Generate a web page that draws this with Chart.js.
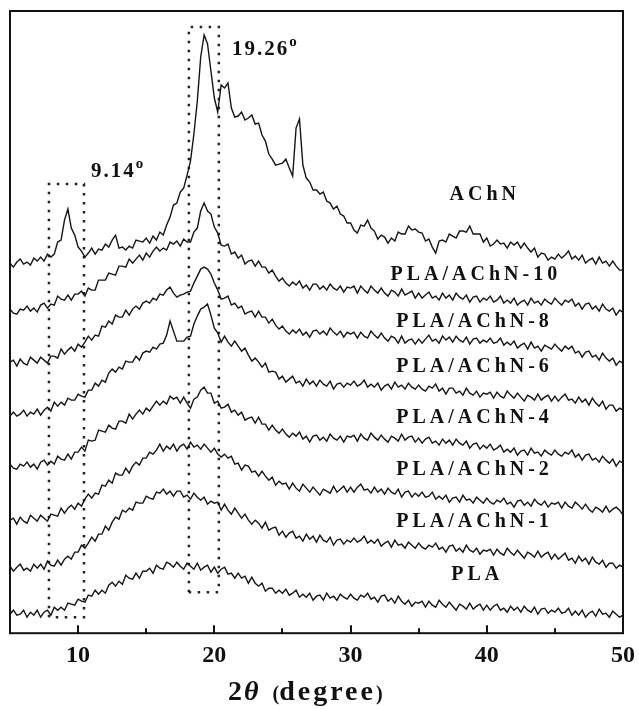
<!DOCTYPE html>
<html>
<head>
<meta charset="utf-8">
<title>XRD patterns</title>
<script src="https://cdn.jsdelivr.net/npm/chart.js@4.4.1/dist/chart.umd.min.js"></script>
<style>
  html, body { margin: 0; padding: 0; background: #fff; }
  #wrap { width: 639px; height: 709px; }
</style>
</head>
<body>
<div id="wrap"><canvas id="xrd" width="639" height="709"></canvas></div>
<script>
// 2theta grid (degree), 0.25 step
const angles = [
  5, 5.25, 5.5, 5.75, 6, 6.25, 6.5, 6.75, 7, 7.25, 7.5, 7.75, 8, 8.25, 8.5, 8.75, 9, 9.25, 9.5, 9.75,
  10, 10.25, 10.5, 10.75, 11, 11.25, 11.5, 11.75, 12, 12.25, 12.5, 12.75, 13, 13.25, 13.5, 13.75, 14, 14.25, 14.5, 14.75,
  15, 15.25, 15.5, 15.75, 16, 16.25, 16.5, 16.75, 17, 17.25, 17.5, 17.75, 18, 18.25, 18.5, 18.75, 19, 19.25, 19.5, 19.75,
  20, 20.25, 20.5, 20.75, 21, 21.25, 21.5, 21.75, 22, 22.25, 22.5, 22.75, 23, 23.25, 23.5, 23.75, 24, 24.25, 24.5, 24.75,
  25, 25.25, 25.5, 25.75, 26, 26.25, 26.5, 26.75, 27, 27.25, 27.5, 27.75, 28, 28.25, 28.5, 28.75, 29, 29.25, 29.5, 29.75,
  30, 30.25, 30.5, 30.75, 31, 31.25, 31.5, 31.75, 32, 32.25, 32.5, 32.75, 33, 33.25, 33.5, 33.75, 34, 34.25, 34.5, 34.75,
  35, 35.25, 35.5, 35.75, 36, 36.25, 36.5, 36.75, 37, 37.25, 37.5, 37.75, 38, 38.25, 38.5, 38.75, 39, 39.25, 39.5, 39.75,
  40, 40.25, 40.5, 40.75, 41, 41.25, 41.5, 41.75, 42, 42.25, 42.5, 42.75, 43, 43.25, 43.5, 43.75, 44, 44.25, 44.5, 44.75,
  45, 45.25, 45.5, 45.75, 46, 46.25, 46.5, 46.75, 47, 47.25, 47.5, 47.75, 48, 48.25, 48.5, 48.75, 49, 49.25, 49.5, 49.75,
  50
];

// intensities (a.u., curves already stacked with offsets)
const achn = [
  370, 366, 371, 374, 369, 371, 368, 375, 372, 376, 372, 379, 376, 379, 391, 393, 413, 424, 405, 398,
  386, 382, 376, 380, 385, 379, 384, 383, 389, 386, 393, 398, 385, 386, 383, 387, 385, 393, 392, 391,
  395, 390, 397, 393, 401, 398, 408, 416, 428, 430, 441, 445, 458, 472, 499, 532, 576, 598, 589, 562,
  535, 521, 548, 545, 550, 525, 516, 517, 521, 513, 515, 518, 509, 510, 498, 492, 479, 474, 468, 469,
  470, 474, 465, 457, 505, 514, 468, 455, 451, 443, 443, 439, 441, 432, 430, 424, 427, 419, 417, 410,
  410, 403, 400, 408, 407, 413, 405, 402, 394, 398, 396, 390, 395, 392, 401, 399, 399, 407, 403, 404,
  401, 400, 392, 394, 386, 380, 392, 393, 391, 399, 397, 395, 402, 402, 401, 407, 399, 399, 399, 391,
  395, 387, 389, 393, 389, 390, 385, 391, 388, 391, 385, 390, 385, 381, 385, 376, 380, 379, 373, 376,
  374, 379, 375, 378, 382, 374, 377, 373, 378, 370, 373, 375, 369, 376, 370, 372, 367, 372, 367, 363,
  363
];
const achn10 = [
  324, 320, 319, 324, 323, 327, 322, 325, 321, 328, 330, 325, 329, 328, 337, 334, 333, 338, 333, 339,
  339, 342, 337, 345, 343, 343, 353, 353, 353, 360, 359, 358, 367, 367, 366, 374, 370, 374, 378, 373,
  380, 376, 382, 386, 382, 385, 383, 391, 389, 392, 387, 394, 391, 391, 401, 405, 422, 430, 422, 419,
  406, 400, 388, 387, 389, 379, 381, 375, 378, 369, 372, 373, 367, 372, 366, 366, 360, 363, 357, 352,
  355, 350, 347, 351, 348, 352, 345, 348, 343, 349, 349, 344, 347, 343, 349, 345, 343, 347, 341, 346,
  345, 347, 340, 347, 343, 340, 347, 343, 340, 345, 340, 337, 343, 341, 337, 344, 338, 340, 342, 335,
  340, 335, 338, 341, 335, 337, 333, 340, 335, 338, 333, 340, 336, 334, 338, 331, 336, 337, 331, 335,
  333, 337, 331, 333, 337, 330, 333, 330, 335, 328, 331, 333, 328, 335, 330, 332, 328, 334, 331, 329,
  335, 331, 328, 333, 331, 334, 327, 330, 324, 329, 330, 324, 327, 322, 329, 324, 322, 325, 318, 323,
  321
];
const achn8 = [
  271, 273, 267, 274, 270, 268, 276, 273, 270, 276, 273, 270, 277, 277, 275, 284, 279, 283, 286, 282,
  289, 286, 291, 297, 293, 298, 297, 307, 306, 312, 309, 318, 316, 316, 323, 318, 324, 327, 324, 330,
  332, 330, 335, 333, 339, 338, 343, 346, 340, 336, 338, 339, 341, 342, 350, 357, 364, 366, 364, 359,
  350, 343, 334, 335, 337, 328, 330, 325, 327, 319, 321, 322, 316, 322, 316, 316, 310, 314, 308, 304,
  307, 302, 299, 303, 300, 304, 298, 301, 296, 302, 303, 299, 302, 298, 305, 301, 298, 302, 296, 301,
  299, 301, 295, 301, 297, 295, 302, 298, 295, 300, 295, 292, 297, 295, 290, 297, 290, 293, 294, 289,
  294, 290, 294, 298, 292, 294, 290, 297, 293, 296, 291, 297, 293, 291, 296, 289, 294, 295, 290, 293,
  291, 295, 290, 291, 295, 288, 291, 288, 292, 285, 288, 290, 284, 291, 285, 287, 282, 288, 286, 284,
  289, 285, 282, 287, 284, 287, 280, 282, 276, 281, 282, 276, 278, 273, 280, 275, 272, 275, 268, 272,
  270
];
const achn6 = [
  217, 221, 217, 219, 223, 217, 221, 219, 224, 218, 223, 226, 222, 231, 227, 231, 228, 235, 233, 233,
  239, 237, 236, 243, 243, 250, 247, 253, 251, 260, 264, 261, 266, 264, 272, 271, 271, 277, 273, 280,
  282, 281, 286, 284, 289, 290, 298, 312, 302, 292, 292, 292, 296, 297, 309, 317, 324, 326, 329, 318,
  305, 300, 291, 297, 291, 287, 292, 287, 282, 285, 278, 272, 275, 271, 266, 270, 261, 262, 261, 254,
  257, 251, 254, 257, 250, 252, 247, 254, 249, 252, 247, 253, 249, 247, 252, 244, 249, 250, 246, 250,
  248, 252, 247, 249, 253, 246, 249, 246, 250, 243, 247, 249, 244, 251, 246, 248, 244, 250, 246, 244,
  248, 244, 242, 247, 245, 249, 242, 245, 239, 245, 245, 240, 242, 238, 245, 240, 238, 242, 236, 240,
  239, 241, 235, 241, 237, 235, 242, 238, 235, 240, 236, 232, 238, 236, 233, 239, 233, 236, 238, 232,
  237, 232, 236, 239, 233, 234, 230, 236, 231, 234, 228, 235, 230, 227, 232, 224, 228, 228, 222, 225,
  223
];
const achn4 = [
  169, 165, 164, 169, 167, 171, 166, 169, 164, 171, 173, 168, 172, 169, 177, 174, 173, 179, 174, 181,
  181, 186, 182, 193, 192, 193, 203, 202, 201, 208, 205, 204, 212, 212, 210, 219, 214, 219, 223, 219,
  225, 222, 227, 232, 228, 232, 229, 237, 234, 236, 230, 236, 230, 225, 234, 236, 243, 246, 240, 240,
  230, 232, 225, 226, 229, 221, 223, 218, 221, 213, 215, 216, 210, 216, 209, 209, 203, 208, 203, 200,
  204, 199, 196, 200, 197, 201, 194, 197, 191, 197, 198, 193, 196, 192, 199, 195, 193, 197, 191, 197,
  196, 198, 192, 199, 195, 193, 200, 196, 193, 198, 194, 191, 197, 195, 192, 199, 193, 196, 197, 191,
  195, 190, 194, 196, 190, 192, 188, 194, 190, 193, 188, 194, 190, 188, 192, 185, 189, 190, 184, 188,
  185, 189, 183, 185, 188, 181, 184, 181, 185, 178, 182, 183, 178, 185, 180, 181, 177, 183, 180, 178,
  183, 179, 177, 181, 179, 183, 176, 179, 173, 178, 179, 173, 175, 171, 177, 173, 170, 174, 167, 172,
  170
];
const achn2 = [
  113, 115, 109, 116, 112, 110, 118, 115, 112, 118, 115, 112, 119, 118, 117, 125, 120, 125, 128, 124,
  130, 127, 134, 139, 135, 140, 139, 148, 147, 153, 150, 160, 158, 158, 165, 160, 167, 171, 168, 175,
  175, 181, 179, 183, 189, 182, 187, 184, 189, 182, 187, 189, 184, 191, 186, 188, 184, 189, 185, 181,
  185, 179, 176, 179, 175, 177, 169, 170, 163, 168, 167, 161, 162, 157, 162, 157, 153, 156, 148, 152,
  149, 150, 144, 150, 145, 142, 149, 145, 141, 146, 142, 138, 144, 142, 140, 147, 141, 144, 147, 141,
  146, 141, 146, 149, 143, 144, 140, 146, 141, 144, 139, 145, 141, 139, 144, 136, 141, 142, 136, 140,
  137, 141, 136, 137, 141, 134, 137, 134, 138, 131, 135, 136, 131, 138, 133, 134, 130, 136, 133, 130,
  135, 131, 129, 133, 131, 135, 129, 131, 126, 132, 133, 128, 131, 127, 134, 130, 128, 132, 126, 130,
  129, 131, 125, 131, 127, 125, 131, 128, 124, 129, 124, 121, 126, 124, 121, 127, 121, 124, 126, 123,
  118
];
const achn1 = [
  67, 62, 66, 69, 63, 65, 62, 69, 65, 69, 64, 72, 68, 67, 73, 68, 74, 77, 74, 81,
  81, 88, 85, 90, 96, 92, 99, 99, 107, 103, 111, 116, 114, 123, 121, 125, 123, 131, 130, 130,
  137, 135, 134, 141, 140, 144, 139, 142, 137, 142, 142, 136, 138, 134, 140, 136, 133, 136, 129, 132,
  130, 131, 123, 129, 123, 119, 125, 120, 115, 119, 113, 109, 113, 110, 105, 111, 103, 105, 106, 98,
  102, 96, 100, 102, 95, 97, 92, 99, 94, 97, 91, 98, 93, 91, 96, 88, 93, 94, 89, 93,
  91, 95, 91, 93, 97, 90, 93, 90, 94, 87, 90, 92, 86, 93, 88, 89, 85, 91, 88, 85,
  90, 86, 84, 88, 86, 90, 84, 86, 81, 87, 88, 82, 85, 81, 88, 83, 81, 85, 79, 83,
  82, 84, 78, 84, 80, 78, 85, 81, 78, 83, 79, 75, 81, 79, 76, 82, 76, 79, 81, 74,
  79, 74, 77, 80, 73, 75, 70, 77, 72, 75, 69, 76, 71, 69, 73, 66, 70, 70, 65, 68,
  66
];
const pla = [
  19, 23, 18, 19, 23, 16, 21, 18, 23, 16, 21, 23, 18, 26, 23, 26, 23, 30, 29, 28,
  34, 32, 31, 38, 37, 43, 39, 43, 40, 48, 51, 47, 52, 49, 58, 55, 54, 60, 55, 62,
  62, 65, 60, 68, 65, 64, 71, 69, 66, 71, 67, 64, 70, 67, 64, 70, 63, 66, 68, 61,
  66, 60, 64, 66, 59, 60, 55, 60, 55, 57, 50, 56, 50, 47, 50, 42, 45, 45, 40, 43,
  40, 44, 38, 40, 43, 36, 39, 36, 40, 33, 37, 38, 33, 40, 35, 37, 33, 39, 36, 34,
  39, 35, 33, 38, 36, 40, 34, 36, 31, 37, 38, 32, 35, 30, 37, 32, 29, 33, 27, 31,
  30, 32, 26, 32, 28, 26, 33, 29, 26, 31, 27, 23, 29, 27, 24, 30, 24, 27, 29, 23,
  28, 23, 27, 29, 23, 25, 21, 27, 23, 26, 21, 27, 23, 21, 26, 19, 24, 25, 20, 23,
  21, 25, 20, 21, 25, 18, 22, 18, 23, 16, 20, 22, 17, 24, 19, 20, 16, 22, 19, 16,
  18
];

const seriesNames = ["AChN", "PLA/AChN-10", "PLA/AChN-8", "PLA/AChN-6", "PLA/AChN-4", "PLA/AChN-2", "PLA/AChN-1", "PLA"];
const seriesValues = [achn, achn10, achn8, achn6, achn4, achn2, achn1, pla];
// where each curve name sits (degree, a.u.)
const nameAt = [[39.85, 438], [39.2, 358], [39.1, 311], [39.1, 266], [39.1, 215], [39.1, 163], [39.1, 111], [39.3, 58]];

// dotted boxes around the two AChN reflections
const boxLow = { x: [7.86, 10.43], y: [16, 449] };
const boxHigh = { x: [18.13, 20.33], y: [41, 606] };
const peakTexts = [["9.14", 10.94, 456], ["19.26", 21.29, 578]];

const xTicks = [10, 20, 30, 40, 50];
const xMinorTicks = [15, 25, 35, 45];

const ink = "#111";
const serif = '"Liberation Serif", "Times New Roman", serif';

function boxPoints(b) {
  return [
    { x: b.x[0], y: b.y[0] }, { x: b.x[0], y: b.y[1] },
    { x: b.x[1], y: b.y[1] }, { x: b.x[1], y: b.y[0] },
    { x: b.x[0], y: b.y[0] }
  ];
}

const curveSets = seriesValues.map((vals, i) => ({
  label: seriesNames[i],
  data: angles.map((a, k) => ({ x: a, y: vals[k] })),
  borderColor: "#151515",
  borderWidth: 1.4,
  pointRadius: 0,
  tension: 0,
  fill: false
}));

const boxSets = [boxLow, boxHigh].map(b => ({
  label: "box",
  data: boxPoints(b),
  borderColor: "#222",
  borderWidth: 2.5,
  borderDash: [2.5, 6.5],
  pointRadius: 0,
  tension: 0,
  fill: false
}));

const overlay = {
  id: "overlay",
  afterDraw(chart) {
    const { ctx, chartArea: a, scales: { x, y } } = chart;
    ctx.save();
    ctx.strokeStyle = ink;
    ctx.lineWidth = 2;
    ctx.strokeRect(a.left, a.top, a.right - a.left, a.bottom - a.top);

    // inward ticks on the bottom axis
    xTicks.forEach(v => {
      const px = Math.round(x.getPixelForValue(v));
      ctx.beginPath(); ctx.moveTo(px, a.bottom); ctx.lineTo(px, a.bottom - 8); ctx.stroke();
    });
    xMinorTicks.forEach(v => {
      const px = Math.round(x.getPixelForValue(v));
      ctx.beginPath(); ctx.moveTo(px, a.bottom); ctx.lineTo(px, a.bottom - 5); ctx.stroke();
    });

    ctx.fillStyle = ink;
    // curve names
    ctx.font = "bold 20px " + serif;
    ctx.letterSpacing = "4px";
    ctx.textAlign = "center";
    ctx.textBaseline = "middle";
    seriesNames.forEach((n, i) => {
      ctx.fillText(n, x.getPixelForValue(nameAt[i][0]), y.getPixelForValue(nameAt[i][1]));
    });

    // peak positions
    ctx.textAlign = "left";
    ctx.textBaseline = "alphabetic";
    peakTexts.forEach(([t, deg, val]) => {
      const px = x.getPixelForValue(deg), py = y.getPixelForValue(val);
      ctx.font = "bold 21px " + serif;
      ctx.letterSpacing = "2px";
      ctx.fillText(t, px, py);
      const w = ctx.measureText(t).width;
      ctx.font = "bold 15px " + serif;
      ctx.letterSpacing = "0px";
      ctx.fillText("o", px + w, py - 9);
    });

    // axis title: 2θ (degree)
    let tx = 228;
    const ty = a.bottom + 67;
    const parts = [
      ["2", "bold 28px " + serif, "2px"],
      ["\u03B8", "italic bold 28px " + serif, "0px"],
      ["  ", "bold 28px " + serif, "0px"],
      ["(", "bold 20px " + serif, "0px"],
      ["degree", "bold 28px " + serif, "3px"],
      [")", "bold 20px " + serif, "0px"]
    ];
    parts.forEach(([t, f, ls]) => {
      ctx.font = f;
      ctx.letterSpacing = ls;
      ctx.fillText(t, tx, ty);
      tx += ctx.measureText(t).width;
    });
    ctx.restore();
  }
};

new Chart(document.getElementById("xrd"), {
  type: "line",
  data: { datasets: curveSets.concat(boxSets) },
  options: {
    responsive: false,
    animation: false,
    events: [],
    layout: { padding: { left: 10, right: 16, top: 11, bottom: 31 } },
    plugins: { legend: { display: false }, tooltip: { enabled: false } },
    scales: {
      x: {
        type: "linear",
        min: 5,
        max: 50,
        afterBuildTicks: s => { s.ticks = xTicks.map(v => ({ value: v })); },
        // let the last tick label hang past the frame, as in the figure
        afterFit: s => { s.paddingRight = 0; s.paddingLeft = 0; },
        grid: { display: false, drawTicks: false },
        border: { display: false },
        ticks: {
          color: ink,
          padding: 8,
          maxRotation: 0,
          font: { family: serif, size: 24, weight: "bold" }
        }
      },
      y: {
        display: false,
        min: 0,
        max: 622
      }
    }
  },
  plugins: [overlay]
});
</script>
</body>
</html>
